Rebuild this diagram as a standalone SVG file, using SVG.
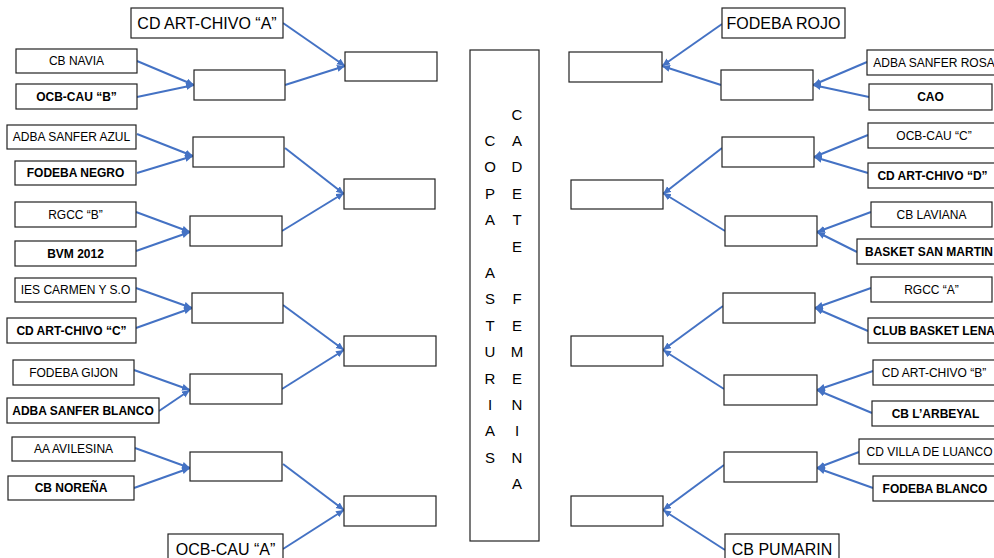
<svg xmlns="http://www.w3.org/2000/svg" width="994" height="558" viewBox="0 0 994 558">
<defs>
<marker id="ah" markerWidth="9" markerHeight="8" refX="8" refY="3.5" orient="auto" markerUnits="userSpaceOnUse">
<path d="M0,0 L8,3.5 L0,7 z" fill="#4472C4"/>
</marker>
<style>
rect{fill:#fff;stroke:#222;stroke-width:1.2}
text{font-family:"Liberation Sans",Arial,sans-serif;fill:#000;text-anchor:middle}
.t{font-size:12px}
.b{font-size:12px;font-weight:bold}
.L{font-size:16px}
.v{font-size:15px}
#connectors line{stroke:#4472C4;stroke-width:2;marker-end:url(#ah)}
</style>
</defs>
<rect x="0" y="0" width="994" height="558" style="stroke:none"/>
<g id="connectors">
<line x1="137" y1="61" x2="194" y2="85"/>
<line x1="137" y1="97" x2="194" y2="85"/>
<line x1="285" y1="85" x2="345" y2="66"/>
<line x1="283" y1="23" x2="345" y2="66"/>
<line x1="137" y1="134" x2="193" y2="156"/>
<line x1="137" y1="173" x2="193" y2="156"/>
<line x1="285" y1="148" x2="344" y2="194"/>
<line x1="282" y1="231" x2="344" y2="193"/>
<line x1="136" y1="212" x2="190" y2="232"/>
<line x1="136" y1="251" x2="190" y2="232"/>
<line x1="136" y1="288" x2="192" y2="308"/>
<line x1="136" y1="328" x2="192" y2="308"/>
<line x1="283" y1="305" x2="344" y2="350"/>
<line x1="282" y1="389" x2="344" y2="350"/>
<line x1="134" y1="370" x2="190" y2="390"/>
<line x1="159" y1="411" x2="190" y2="390"/>
<line x1="135" y1="448" x2="190" y2="468"/>
<line x1="134" y1="488" x2="190" y2="468"/>
<line x1="283" y1="464" x2="344" y2="510"/>
<line x1="283" y1="549" x2="344" y2="510"/>
<line x1="867" y1="62" x2="813" y2="85"/>
<line x1="869" y1="97" x2="813" y2="85"/>
<line x1="722" y1="24" x2="662" y2="66"/>
<line x1="721" y1="85" x2="662" y2="66"/>
<line x1="868" y1="135" x2="814" y2="157"/>
<line x1="868" y1="173" x2="814" y2="157"/>
<line x1="722" y1="148" x2="663" y2="194"/>
<line x1="725" y1="231" x2="663" y2="193"/>
<line x1="871" y1="212" x2="817" y2="232"/>
<line x1="857" y1="252" x2="817" y2="232"/>
<line x1="871" y1="288" x2="815" y2="308"/>
<line x1="868" y1="331" x2="815" y2="308"/>
<line x1="723" y1="306" x2="663" y2="350"/>
<line x1="724" y1="389" x2="663" y2="350"/>
<line x1="873" y1="371" x2="817" y2="390"/>
<line x1="872" y1="413" x2="817" y2="390"/>
<line x1="859" y1="452" x2="817" y2="468"/>
<line x1="873" y1="488" x2="817" y2="468"/>
<line x1="724" y1="465" x2="663" y2="510"/>
<line x1="725" y1="550" x2="663" y2="510"/>
</g>
<g id="l-artchivo-a"><rect x="131" y="8" width="152" height="30"/><text class="L" x="207" y="28.5">CD ART-CHIVO “A”</text></g>
<g id="l-cbnavia"><rect x="16" y="49" width="121" height="24"/><text class="t" x="76.5" y="65.3">CB NAVIA</text></g>
<g id="l-ocbcau-b"><rect x="16" y="84" width="121" height="25"/><text class="b" x="76.5" y="100.8">OCB-CAU “B”</text></g>
<g id="l-r1-1"><rect x="194" y="70" width="91" height="30"/></g>
<g id="l-qf-1"><rect x="345" y="52" width="92" height="29"/></g>
<g id="l-sanfer-azul"><rect x="7" y="125" width="129" height="24"/><text class="t" x="71.5" y="141.3">ADBA SANFER AZUL</text></g>
<g id="l-fodeba-negro"><rect x="15" y="161" width="121" height="24"/><text class="b" x="75.5" y="177.3">FODEBA NEGRO</text></g>
<g id="l-r1-2"><rect x="193" y="137" width="91" height="30"/></g>
<g id="l-qf-2"><rect x="344" y="179" width="91" height="30"/></g>
<g id="l-rgcc-b"><rect x="15" y="202" width="121" height="25"/><text class="t" x="75.5" y="218.8">RGCC “B”</text></g>
<g id="l-bvm"><rect x="15" y="241" width="121" height="25"/><text class="b" x="75.5" y="257.8">BVM 2012</text></g>
<g id="l-r1-3"><rect x="190" y="216" width="92" height="30"/></g>
<g id="l-ies"><rect x="15" y="278" width="121" height="24"/><text class="t" x="75.5" y="294.3">IES CARMEN Y S.O</text></g>
<g id="l-artchivo-c"><rect x="7" y="318" width="129" height="25"/><text class="b" x="71.5" y="334.8">CD ART-CHIVO “C”</text></g>
<g id="l-r1-4"><rect x="192" y="293" width="91" height="30"/></g>
<g id="l-qf-3"><rect x="344" y="336" width="92" height="30"/></g>
<g id="l-fodeba-gijon"><rect x="13" y="360" width="121" height="25"/><text class="t" x="73.5" y="376.8">FODEBA GIJON</text></g>
<g id="l-sanfer-blanco"><rect x="7" y="398" width="152" height="25"/><text class="b" x="83" y="414.8">ADBA SANFER BLANCO</text></g>
<g id="l-r1-5"><rect x="190" y="374" width="92" height="30"/></g>
<g id="l-avilesina"><rect x="12" y="437" width="123" height="24"/><text class="t" x="73.5" y="453.3">AA AVILESINA</text></g>
<g id="l-norena"><rect x="8" y="476" width="126" height="24"/><text class="b" x="71" y="492.3">CB NOREÑA</text></g>
<g id="l-r1-6"><rect x="190" y="452" width="92" height="29"/></g>
<g id="l-qf-4"><rect x="344" y="496" width="92" height="30"/></g>
<g id="l-ocbcau-a"><rect x="168" y="534" width="115" height="30"/><text class="L" x="225.5" y="555">OCB-CAU “A”</text></g>
<g id="title"><rect x="470" y="50" width="69" height="491"/>
<text class="v" x="490"><tspan x="490" y="146">C</tspan><tspan x="490" y="172.4">O</tspan><tspan x="490" y="198.8">P</tspan><tspan x="490" y="225.2">A</tspan><tspan x="490" y="278">A</tspan><tspan x="490" y="304.4">S</tspan><tspan x="490" y="330.8">T</tspan><tspan x="490" y="357.2">U</tspan><tspan x="490" y="383.6">R</tspan><tspan x="490" y="410">I</tspan><tspan x="490" y="436.4">A</tspan><tspan x="490" y="462.8">S</tspan></text>
<text class="v" x="517"><tspan x="517" y="119.6">C</tspan><tspan x="517" y="146">A</tspan><tspan x="517" y="172.4">D</tspan><tspan x="517" y="198.8">E</tspan><tspan x="517" y="225.2">T</tspan><tspan x="517" y="251.6">E</tspan><tspan x="517" y="304.4">F</tspan><tspan x="517" y="330.8">E</tspan><tspan x="517" y="357.2">M</tspan><tspan x="517" y="383.6">E</tspan><tspan x="517" y="410">N</tspan><tspan x="517" y="436.4">I</tspan><tspan x="517" y="462.8">N</tspan><tspan x="517" y="489.2">A</tspan></text>
</g>
<g id="r-fodeba-rojo"><rect x="722" y="8" width="123" height="30"/><text class="L" x="783.5" y="28.5">FODEBA ROJO</text></g>
<g id="r-qf-1"><rect x="569" y="52" width="93" height="30"/></g>
<g id="r-r1-1"><rect x="721" y="70" width="92" height="30"/></g>
<g id="r-sanfer-rosa"><rect x="867" y="50" width="134" height="25"/><text class="t" x="934" y="66.8">ADBA SANFER ROSA</text></g>
<g id="r-cao"><rect x="869" y="84" width="123" height="26"/><text class="b" x="930.5" y="101.3">CAO</text></g>
<g id="r-ocbcau-c"><rect x="868" y="123" width="132" height="25"/><text class="t" x="934" y="139.8">OCB-CAU “C”</text></g>
<g id="r-artchivo-d"><rect x="868" y="163" width="129" height="25"/><text class="b" x="932.5" y="179.8">CD ART-CHIVO “D”</text></g>
<g id="r-r1-2"><rect x="722" y="137" width="92" height="30"/></g>
<g id="r-qf-2"><rect x="571" y="180" width="92" height="29"/></g>
<g id="r-laviana"><rect x="871" y="202" width="121" height="25"/><text class="t" x="931.5" y="218.8">CB LAVIANA</text></g>
<g id="r-sanmartin"><rect x="857" y="239" width="144" height="25"/><text class="b" x="929" y="255.8">BASKET SAN MARTIN</text></g>
<g id="r-r1-3"><rect x="725" y="216" width="92" height="30"/></g>
<g id="r-rgcc-a"><rect x="871" y="277" width="121" height="25"/><text class="t" x="931.5" y="293.8">RGCC “A”</text></g>
<g id="r-lena"><rect x="868" y="318" width="132" height="25"/><text class="b" x="934" y="334.8">CLUB BASKET LENA</text></g>
<g id="r-r1-4"><rect x="723" y="293" width="92" height="30"/></g>
<g id="r-qf-3"><rect x="571" y="336" width="92" height="30"/></g>
<g id="r-artchivo-b"><rect x="873" y="360" width="122" height="25"/><text class="t" x="934" y="376.8">CD ART-CHIVO “B”</text></g>
<g id="r-arbeyal"><rect x="872" y="401" width="127" height="25"/><text class="b" x="935.5" y="417.8">CB L’ARBEYAL</text></g>
<g id="r-r1-5"><rect x="724" y="375" width="93" height="30"/></g>
<g id="r-luanco"><rect x="859" y="439" width="141" height="25"/><text class="t" x="929.5" y="455.8">CD VILLA DE LUANCO</text></g>
<g id="r-fodeba-blanco"><rect x="873" y="476" width="124" height="25"/><text class="b" x="935" y="492.8">FODEBA BLANCO</text></g>
<g id="r-r1-6"><rect x="724" y="452" width="93" height="30"/></g>
<g id="r-qf-4"><rect x="571" y="496" width="92" height="30"/></g>
<g id="r-pumarin"><rect x="725" y="534" width="114" height="30"/><text class="L" x="782" y="555">CB PUMARIN</text></g>
</svg>
